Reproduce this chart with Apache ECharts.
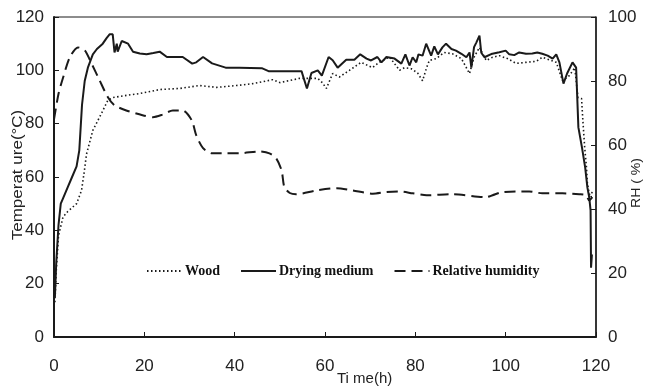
<!DOCTYPE html>
<html><head><meta charset="utf-8">
<script src="https://cdn.jsdelivr.net/npm/echarts@6/dist/echarts.min.js"></script>
<style>html,body{margin:0;padding:0;background:#fff}#c{width:646px;height:388px}</style>
</head><body><div id="c"></div>
<script>
var xTicks = [0, 20, 40, 60, 80, 100, 120];
var tempTicks = [0, 20, 40, 60, 80, 100, 120];
var rhTicks = [0, 20, 40, 60, 80, 100];
var seriesNames = ['Wood', 'Drying medium', 'Relative humidity'];

var dryTime = [0.2,0.5,1,1.5,2,3,4,5,5.6,6.2,6.8,7.5,8.6,9.5,10.8,11.6,12.3,13,13.4,13.9,14.1,15,16.4,17.5,19,20.5,22,23.4,25,28.5,30.6,31.5,33,35,38,41,46,47.5,54.8,56,57,58.4,59.3,60.8,61.7,62.8,64.7,66.5,67.8,69.2,70.2,71.6,72.5,73.6,75.4,76.9,77.8,78.7,79.4,80.2,80.7,81.6,82.4,83.5,84.2,85,86,86.8,88,89,90.2,91.3,92,92.4,93,93.5,94.2,94.6,95.3,96.8,98.6,100,100.8,101.9,103,104.5,105.9,107,108.1,109.3,110.4,111.2,111.9,112.8,113.6,114.8,115.6,116.1,116.9,117.6,118.1,118.5,118.8,118.9,119.1];
var dryTemp = [15,28,42,50,52,56,60,64,70,87,96,101,106,108,110,112,113.5,113.5,106.7,110,107,111,110,107,106.3,106,106.5,107,105,105,102.5,103,105,102.6,101,101,100.8,99.7,99.7,93.2,99,100,98,105,103.8,101,104,104,106,104.4,103.7,105,103,105,104.4,102.5,106,101.8,104.9,103,106,105.5,110,105.5,109,106,108.6,110,108,107.4,106.2,104.9,106.7,101,108.7,110.4,113,106.6,104.9,106.1,106.8,107.4,106,105.7,106.7,106.2,106.3,106.7,106.2,105.5,104.4,106,103,95,98.8,103,101,78.6,71,63.6,56,52.4,47.5,26,31];

var woodTime = [0.2,0.5,1,2,3,4,5,6.1,6.7,7.2,8.6,10.5,11.9,13,16,19,23.4,27.8,32.2,36,40.4,44,48.4,50,54.4,58.4,59.4,60.3,61.7,63.2,65.4,68,70.5,72,74.3,76.5,77.6,79.1,80.5,81.6,82.5,83.1,84.6,86.4,88.2,90.2,92,93,94.2,95.7,97.1,98.6,100.4,102.3,104.5,106.8,108.1,110.1,111.2,112.6,114.1,115.3,116,116.8,117.1,117.5,117.9,118.1,118.5,118.9,119.2];
var woodTemp = [13,25,38,45,47,48.5,50,55,62,68.6,77.5,83.8,88.7,89.8,90.6,91.3,92.8,93.2,94.3,93.6,94.3,95,96.5,95.4,97,97,95.4,93.2,98.8,97.5,100,103,101,103,105,100,101,100.6,99,96.1,101,103.7,104.4,106.7,106.2,104.4,98.8,104.9,108.6,103.7,104.9,105.5,104.4,102.6,103,103.4,104.9,103.7,103,96.1,98,101,89.8,89.4,81,71,63.5,57.5,53.8,52.4,55];

var rhTime = [0,1,2,3.5,5.3,6.8,8.3,10.1,11.9,13.4,16,19.6,21.9,24,26.3,28.5,30.5,31.5,33,35,38.1,41,45.5,47.7,49.2,50.4,51,52.2,53.6,58.1,62.6,66.1,70.6,73.6,76.5,79.4,82.5,88.2,95.7,97.1,99,102.3,105.2,108.1,112.6,116.3,117.8,118.5,119.2];
var rhValue = [68,76,81,87.4,90.5,89.6,85.5,80.2,75,72.4,70.8,69.3,68.7,69.5,70.8,70.8,67.7,63,59,57.4,57.4,57.4,58,57.4,55.8,52,46.8,45,44.6,45.8,46.5,45.8,44.8,45.3,45.5,44.9,44.3,44.6,43.7,44.3,45.2,45.5,45.5,44.9,44.9,44.6,44.3,42.7,43.7];

function pairs(a, b) { return a.map(function (t, i) { return [t, b[i]]; }); }

var numFont = '"Liberation Sans Narrow", "Arial Narrow", "Liberation Sans", Arial, sans-serif';
var ink = '#1a1a1a';

var chart = echarts.init(document.getElementById('c'), null, {renderer: 'canvas'});
chart.setOption({
  animation: false,
  backgroundColor: '#fff',
  grid: {left: 54, right: 50, top: 17, bottom: 51, show: true, borderColor: ink, borderWidth: 1},
  legend: {
    left: 141, top: 259, itemWidth: 35, itemHeight: 14, itemGap: 20,
    data: seriesNames,
    itemStyle: {color: 'rgba(0,0,0,0)', borderWidth: 0, opacity: 0},
    textStyle: {fontFamily: '"Liberation Serif", "Times New Roman", serif', fontWeight: 'bold', fontSize: 14, color: '#111', padding: [0, 0, 0, -2]}
  },
  xAxis: {
    type: 'value', min: xTicks[0], max: xTicks[xTicks.length - 1], interval: 20,
    axisLine: {lineStyle: {color: ink, width: 2}},
    axisTick: {inside: true, length: 5, lineStyle: {color: ink}},
    axisLabel: {margin: 21, fontFamily: numFont, fontSize: 17, color: '#222'},
    splitLine: {show: false}
  },
  yAxis: [{
    type: 'value', min: tempTicks[0], max: tempTicks[tempTicks.length - 1], interval: 20,
    axisLine: {show: true, lineStyle: {color: ink, width: 2}},
    axisTick: {show: true, inside: true, length: 5, lineStyle: {color: ink}},
    axisLabel: {margin: 10, fontFamily: numFont, fontSize: 17, color: '#222'},
    splitLine: {show: false}
  }, {
    type: 'value', position: 'right', min: rhTicks[0], max: rhTicks[rhTicks.length - 1], interval: 20,
    axisLine: {show: true, lineStyle: {color: ink, width: 1.5}},
    axisTick: {show: true, inside: true, length: 5, lineStyle: {color: ink}},
    axisLabel: {margin: 12, fontFamily: numFont, fontSize: 17, color: '#222'},
    splitLine: {show: false}
  }],
  graphic: [
    {type: 'text', x: 18, y: 175, rotation: Math.PI / 2, scaleY: 0.85, style: {text: 'Temperat ure(°C)', font: '17px "Liberation Sans", Arial, sans-serif', fill: '#222', textAlign: 'center', textVerticalAlign: 'middle'}},
    {type: 'text', x: 637, y: 183, rotation: Math.PI / 2, scaleY: 0.9, style: {text: 'RH ( %)', font: '14px "Liberation Sans", Arial, sans-serif', fill: '#222', textAlign: 'center', textVerticalAlign: 'middle'}},
    {type: 'text', left: 337, top: 371, style: {text: 'Ti me(h)', font: '15px ' + numFont, fill: '#222'}}
  ],
  series: [{
    name: seriesNames[0], type: 'line', yAxisIndex: 0, data: pairs(woodTime, woodTemp),
    showSymbol: false, symbol: 'none', z: 3,
    lineStyle: {color: ink, width: 1.6, type: [1.5, 2.5]}, itemStyle: {color: ink}
  }, {
    name: seriesNames[1], type: 'line', yAxisIndex: 0, data: pairs(dryTime, dryTemp),
    showSymbol: false, symbol: 'none', z: 4,
    lineStyle: {color: ink, width: 2}, itemStyle: {color: ink}
  }, {
    name: seriesNames[2], type: 'line', yAxisIndex: 1, data: pairs(rhTime, rhValue),
    showSymbol: false, symbol: 'none', smooth: 0.25, z: 2,
    lineStyle: {color: ink, width: 2, type: [11, 6]}, itemStyle: {color: ink}
  }]
});
</script></body></html>
